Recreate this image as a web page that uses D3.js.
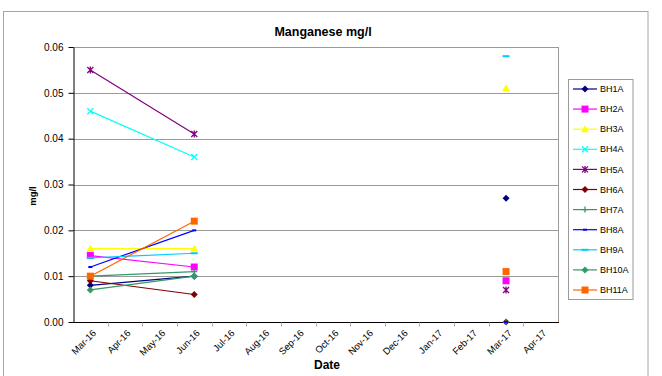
<!DOCTYPE html>
<html>
<head>
<meta charset="utf-8">
<script src="https://cdn.jsdelivr.net/npm/d3@7"></script>
<style>
  html, body { margin: 0; padding: 0; background: #fff; }
  svg { display: block; font-family: "Liberation Sans", Arial, sans-serif; }
</style>
</head>
<body>
<svg id="chart" width="662" height="376"></svg>
<script>
// Monthly categories on the date axis
const months = ["Mar-16","Apr-16","May-16","Jun-16","Jul-16","Aug-16","Sep-16",
                "Oct-16","Nov-16","Dec-16","Jan-17","Feb-17","Mar-17","Apr-17"];

// Sampling rounds; the gap between Jun-16 and Mar-17 has no record, so lines break there
const sampleMonths = ["Mar-16","Jun-16", null, "Mar-17"];

// Manganese results (mg/l) per borehole, aligned with sampleMonths
const bh1a  = [0.008, 0.010, null, 0.027];
const bh2a  = [0.0145, 0.012, null, 0.009];
const bh3a  = [0.016, 0.016, null, 0.051];
const bh4a  = [0.046, 0.036, null, null];
const bh5a  = [0.055, 0.041, null, 0.007];
const bh6a  = [0.009, 0.006, null, 0.000];
const bh7a  = [0.010, 0.011, null, 0.000];
const bh8a  = [0.012, 0.020, null, 0.000];
const bh9a  = [0.014, 0.015, null, 0.058];
const bh10a = [0.007, 0.010, null, null];
const bh11a = [0.010, 0.022, null, 0.011];

const seriesNames = ["BH1A","BH2A","BH3A","BH4A","BH5A","BH6A","BH7A","BH8A","BH9A","BH10A","BH11A"];
const seriesValues = [bh1a,bh2a,bh3a,bh4a,bh5a,bh6a,bh7a,bh8a,bh9a,bh10a,bh11a];

const yTicks = [0, 0.01, 0.02, 0.03, 0.04, 0.05, 0.06];

// Visual style per series: line colour and marker shape
const styles = {
  BH1A:  { color: "#000080", marker: "diamond" },
  BH2A:  { color: "#FF00FF", marker: "square" },
  BH3A:  { color: "#FFFF00", marker: "triangle" },
  BH4A:  { color: "#00FFFF", marker: "x" },
  BH5A:  { color: "#800080", marker: "star" },
  BH6A:  { color: "#800000", marker: "diamond" },
  BH7A:  { color: "#339966", marker: "plus" },
  BH8A:  { color: "#0000FF", marker: "dash" },
  BH9A:  { color: "#00CCFF", marker: "longdash" },
  BH10A: { color: "#339966", marker: "diamond" },
  BH11A: { color: "#FF6600", marker: "square" }
};

const svg = d3.select("#chart");

// Outer chart frame
svg.append("rect")
  .attr("x", 3.5).attr("y", 11.5)
  .attr("width", 644.5).attr("height", 400)
  .attr("fill", "#fff").attr("stroke", "#a6a6a6").attr("stroke-width", 1);

const plot = { left: 73, top: 47, right: 558, bottom: 322 };

const x = d3.scaleBand().domain(months).range([plot.left, plot.right]).paddingInner(0).paddingOuter(0);
const xc = m => x(m) + x.bandwidth() / 2;
const y = d3.scaleLinear().domain([0, 0.06]).range([plot.bottom, plot.top]);

// Horizontal gridlines
svg.append("g").selectAll("line")
  .data(yTicks.filter(t => t > 0))
  .join("line")
  .attr("x1", plot.left).attr("x2", plot.right)
  .attr("y1", d => Math.round(y(d)) + 0.5).attr("y2", d => Math.round(y(d)) + 0.5)
  .attr("stroke", "#9a9a9a").attr("stroke-width", 1);

// Right edge of plot area
svg.append("line")
  .attr("x1", plot.right + 0.5).attr("x2", plot.right + 0.5)
  .attr("y1", plot.top).attr("y2", plot.bottom)
  .attr("stroke", "#9a9a9a");

// Y axis
const yAxis = d3.axisLeft(y).tickValues(yTicks).tickFormat(d3.format(".2f")).tickSizeInner(5).tickSizeOuter(0);
const gy = svg.append("g").attr("transform", `translate(${plot.left + 0.5},0)`).call(yAxis);
gy.select(".domain").attr("stroke", "#000");
gy.selectAll(".tick line").attr("stroke", "#000");
gy.selectAll(".tick text").attr("font-size", 10).attr("fill", "#000").attr("x", -10)
  .attr("font-family", "Liberation Sans, Arial, sans-serif");

// X axis: ticks on category boundaries, labels centred in each month
const gx = svg.append("g").attr("transform", `translate(0,${plot.bottom + 0.5})`);
gx.append("line").attr("x1", plot.left).attr("x2", plot.right + 1).attr("y1", 0).attr("y2", 0).attr("stroke", "#000");
gx.selectAll("line.tk")
  .data(months.slice(1))
  .join("line").attr("class", "tk")
  .attr("x1", d => Math.round(x(d)) + 0.5).attr("x2", d => Math.round(x(d)) + 0.5)
  .attr("y1", 0).attr("y2", 4)
  .attr("stroke", "#b0b0b0");
gx.selectAll("text")
  .data(months)
  .join("text")
  .attr("transform", d => `translate(${xc(d) + 4},${9}) rotate(-45)`)
  .attr("text-anchor", "end")
  .attr("dy", "0.35em")
  .attr("font-size", 9.5)
  .text(d => d);

// Series lines (broken where there is no record)
const line = d3.line()
  .defined(d => d.v !== null && d.m !== null)
  .x(d => xc(d.m))
  .y(d => y(d.v));

const markerPath = (type, cx, cy) => {
  switch (type) {
    case "diamond": return `M${cx},${cy-3.5}L${cx+3.5},${cy}L${cx},${cy+3.5}L${cx-3.5},${cy}Z`;
    case "square": return `M${cx-3.5},${cy-3.5}h7v7h-7Z`;
    case "triangle": return `M${cx},${cy-4}L${cx+4},${cy+3}L${cx-4},${cy+3}Z`;
    case "x": return `M${cx-3},${cy-3}L${cx+3},${cy+3}M${cx+3},${cy-3}L${cx-3},${cy+3}`;
    case "star": return `M${cx-3},${cy-3}L${cx+3},${cy+3}M${cx+3},${cy-3}L${cx-3},${cy+3}M${cx},${cy-3.5}L${cx},${cy+3.5}`;
    case "plus": return `M${cx-3},${cy}L${cx+3},${cy}M${cx},${cy-3}L${cx},${cy+3}`;
    case "dash": return `M${cx-2},${cy}L${cx+2},${cy}`;
    case "longdash": return `M${cx-3.5},${cy}L${cx+3.5},${cy}`;
  }
};
const filledMarkers = new Set(["diamond","square","triangle"]);

const drawMarker = (g, type, color, cx, cy) => {
  const p = g.append("path").attr("d", markerPath(type, cx, cy));
  if (filledMarkers.has(type)) p.attr("fill", color).attr("stroke", "none");
  else p.attr("fill", "none").attr("stroke", color).attr("stroke-width", type === "dash" || type === "longdash" ? 2 : 1.3);
};

const seriesG = svg.append("g");
seriesNames.forEach((name, i) => {
  const st = styles[name];
  const pts = sampleMonths.map((m, j) => ({ m, v: seriesValues[i][j] }));
  seriesG.append("path")
    .attr("d", line(pts))
    .attr("fill", "none").attr("stroke", st.color).attr("stroke-width", 1.2);
  const mg = seriesG.append("g");
  pts.filter(d => d.m !== null && d.v !== null)
    .forEach(d => drawMarker(mg, st.marker, st.color, xc(d.m), y(d.v)));
});

// Title and axis titles
svg.append("text").attr("x", 323).attr("y", 36).attr("text-anchor", "middle")
  .attr("font-weight", "bold").attr("font-size", 12.5).text("Manganese mg/l");
svg.append("text").attr("x", 327).attr("y", 369).attr("text-anchor", "middle")
  .attr("font-weight", "bold").attr("font-size", 12).text("Date");
svg.append("text").attr("transform", "translate(36,196) rotate(-90)").attr("text-anchor", "middle")
  .attr("font-weight", "bold").attr("font-size", 9.5).text("mg/l");

// Legend
const lg = svg.append("g");
lg.append("rect").attr("x", 568.5).attr("y", 79.5).attr("width", 64.5).attr("height", 220)
  .attr("fill", "#fff").attr("stroke", "#9a9a9a");
seriesNames.forEach((name, i) => {
  const st = styles[name];
  const cy = 89 + i * 20.1;
  lg.append("line").attr("x1", 573).attr("x2", 597).attr("y1", cy).attr("y2", cy)
    .attr("stroke", st.color).attr("stroke-width", 1.2);
  drawMarker(lg, st.marker, st.color, 585, cy);
  lg.append("text").attr("x", 600).attr("y", cy).attr("dy", "0.35em")
    .attr("font-size", 9).text(name);
});
</script>
</body>
</html>
